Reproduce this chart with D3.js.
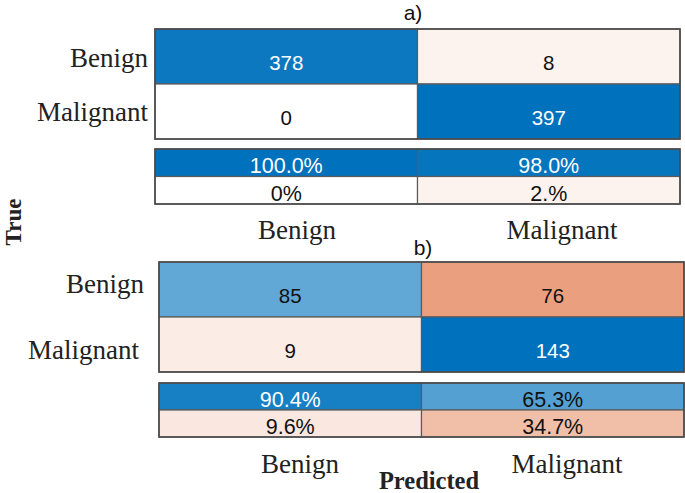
<!DOCTYPE html>
<html>
<head>
<meta charset="utf-8">
<script src="https://cdn.jsdelivr.net/npm/d3@7/dist/d3.min.js"></script>
<style>
  html, body { margin: 0; padding: 0; background: #fff; }
  svg { display: block; }
</style>
</head>
<body>
<svg id="chart" width="685" height="493"></svg>
<script>
// ---- data ----
const classes = ["Benign", "Malignant"];
const summaryRows = ["correct", "incorrect"];
const panelTitles = ["a)", "b)"];
const countsA = [[378, 8], [0, 397]];
const countsB = [[85, 76], [9, 143]];
const pctA = [[100.0, 98.0], [0.0, 2.0]];
const pctB = [[90.4, 65.3], [9.6, 34.7]];
const pctTextA = [["100.0%", "98.0%"], ["0%", "2.%"]];
const pctTextB = [["90.4%", "65.3%"], ["9.6%", "34.7%"]];

// ---- layout ----
const layouts = [
  { x0: 155, x1: 680, y0: 29, y1: 139, py0: 149, py1: 204, titleX: 413, titleY: 20,
    rowLabelX: [148, 148], rowLabelY: [67, 121], colLabelX: [297, 562], colLabelY: 239 },
  { x0: 159, x1: 684, y0: 262, y1: 372, py0: 383, py1: 437, titleX: 423, titleY: 255,
    rowLabelX: [144, 139], rowLabelY: [293, 359], colLabelX: [300, 567], colLabelY: 473 }
];
const panels = [
  { counts: countsA, pct: pctA, pctText: pctTextA },
  { counts: countsB, pct: pctB, pctText: pctTextB }
];

const svg = d3.select("#chart");
const blue = d3.scaleLinear().domain([0, 1]).range(["#ffffff", "#0072BD"]);
const orange = d3.scaleLinear().domain([0, 1]).range(["#ffffff", "#D95319"]);
const intensity = (v, max) => v === 0 ? 0 : Math.min(1, 0.05 + 0.95 * v / max);

panels.forEach((p, pi) => {
  const L = layouts[pi];
  const g = svg.append("g");
  const x = d3.scaleBand().domain(classes).range([L.x0, L.x1]);
  const y = d3.scaleBand().domain(classes).range([L.y0, L.y1]);
  const yp = d3.scaleBand().domain(summaryRows).range([L.py0, L.py1]);
  const maxCount = d3.max(p.counts.flat());

  const cells = [];
  classes.forEach((r, ri) => classes.forEach((c, ci) => {
    cells.push({ r, c, good: ri === ci, v: p.counts[ri][ci],
      t: intensity(p.counts[ri][ci], maxCount) });
  }));
  const pcells = [];
  summaryRows.forEach((r, ri) => classes.forEach((c, ci) => {
    pcells.push({ r, c, good: ri === 0, v: p.pct[ri][ci], text: p.pctText[ri][ci],
      t: intensity(p.pct[ri][ci], 100) });
  }));
  const fill = d => d.t === 0 ? "#ffffff" : (d.good ? blue(d.t) : orange(d.t));
  const txtColor = d => (d.good && d.t > 0.75) ? "#ffffff" : "#111111";

  // matrix
  g.selectAll("rect.cell").data(cells).join("rect")
    .attr("x", d => x(d.c)).attr("y", d => y(d.r))
    .attr("width", x.bandwidth()).attr("height", y.bandwidth())
    .attr("fill", fill).attr("stroke", "#5a5a5a").attr("stroke-width", 1.2);
  g.selectAll("text.cnt").data(cells).join("text")
    .attr("x", d => x(d.c) + x.bandwidth() / 2)
    .attr("y", d => y(d.r) + y.bandwidth() / 2 + 13)
    .attr("text-anchor", "middle")
    .attr("font-family", "Liberation Sans, Arial, sans-serif")
    .attr("font-size", 20.5)
    .attr("fill", txtColor)
    .text(d => d.v);
  g.append("rect").attr("x", L.x0).attr("y", L.y0)
    .attr("width", L.x1 - L.x0).attr("height", L.y1 - L.y0)
    .attr("fill", "none").attr("stroke", "#4a4a4a").attr("stroke-width", 1.6);

  // column summary
  g.selectAll("rect.pc").data(pcells).join("rect")
    .attr("x", d => x(d.c)).attr("y", d => yp(d.r))
    .attr("width", x.bandwidth()).attr("height", yp.bandwidth())
    .attr("fill", fill).attr("stroke", "#5a5a5a").attr("stroke-width", 1.2);
  g.selectAll("text.pct").data(pcells).join("text")
    .attr("x", d => x(d.c) + x.bandwidth() / 2)
    .attr("y", d => yp(d.r) + yp.bandwidth() / 2 + 10.5)
    .attr("text-anchor", "middle")
    .attr("font-family", "Liberation Sans, Arial, sans-serif")
    .attr("font-size", 21.5)
    .attr("fill", txtColor)
    .text(d => d.text);
  g.append("rect").attr("x", L.x0).attr("y", L.py0)
    .attr("width", L.x1 - L.x0).attr("height", L.py1 - L.py0)
    .attr("fill", "none").attr("stroke", "#4a4a4a").attr("stroke-width", 1.6);

  // title
  g.append("text").attr("x", L.titleX).attr("y", L.titleY)
    .attr("text-anchor", "middle")
    .attr("font-family", "Liberation Sans, Arial, sans-serif")
    .attr("font-size", 21).attr("fill", "#111")
    .text(panelTitles[pi]);

  // row and column labels
  classes.forEach((cl, i) => {
    g.append("text").attr("x", L.rowLabelX[i]).attr("y", L.rowLabelY[i])
      .attr("text-anchor", "end")
      .attr("font-family", "Liberation Serif, Times New Roman, serif")
      .attr("font-size", 27).attr("fill", "#222")
      .text(cl);
    g.append("text").attr("x", L.colLabelX[i]).attr("y", L.colLabelY)
      .attr("text-anchor", "middle")
      .attr("font-family", "Liberation Serif, Times New Roman, serif")
      .attr("font-size", 27).attr("fill", "#222")
      .text(cl);
  });
});

// axis titles
svg.append("text")
  .attr("transform", "translate(21,222) rotate(-90)")
  .attr("text-anchor", "middle")
  .attr("font-family", "Liberation Serif, Times New Roman, serif")
  .attr("font-weight", "bold")
  .attr("font-size", 23).attr("fill", "#222")
  .text("True");
svg.append("text")
  .attr("x", 429).attr("y", 489)
  .attr("text-anchor", "middle")
  .attr("font-family", "Liberation Serif, Times New Roman, serif")
  .attr("font-weight", "bold")
  .attr("font-size", 24.5).attr("fill", "#222")
  .text("Predicted");
</script>
</body>
</html>
